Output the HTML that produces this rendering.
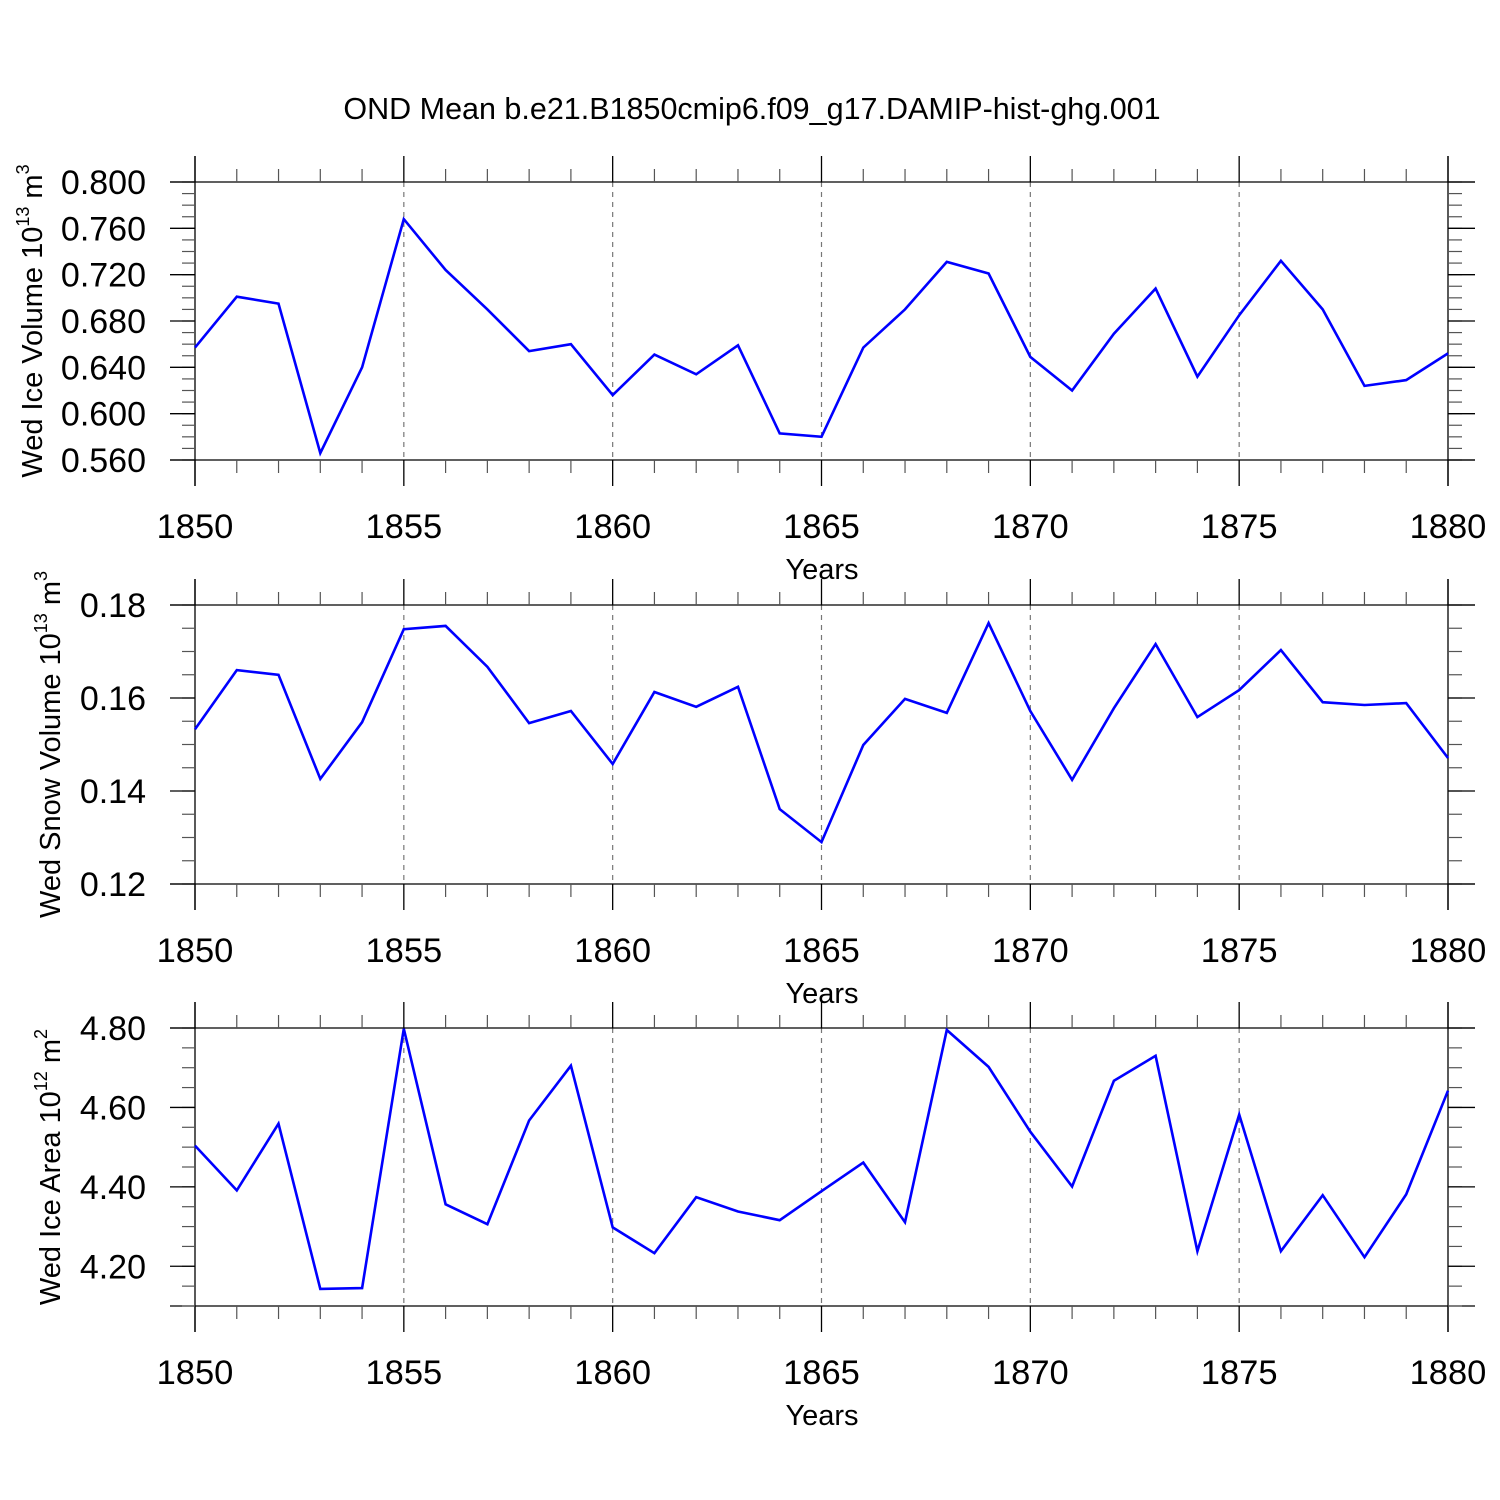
<!DOCTYPE html>
<html><head><meta charset="utf-8">
<style>
html,body{margin:0;padding:0;background:#fff;}
svg{display:block;font-family:"Liberation Sans",sans-serif;}
</style></head>
<body>
<svg id="chart" width="1500" height="1500" viewBox="0 0 1500 1500" xmlns="http://www.w3.org/2000/svg">
<rect width="1500" height="1500" fill="#fff"/>
<text x="752" y="119" font-size="30.5" text-anchor="middle">OND Mean b.e21.B1850cmip6.f09_g17.DAMIP-hist-ghg.001</text>
</svg>
<script>
const years = [1850,1851,1852,1853,1854,1855,1856,1857,1858,1859,1860,1861,1862,1863,1864,1865,1866,1867,1868,1869,1870,1871,1872,1873,1874,1875,1876,1877,1878,1879,1880];
const iceVolume = [0.657,0.701,0.695,0.566,0.640,0.768,0.724,0.690,0.654,0.660,0.616,0.651,0.634,0.659,0.583,0.580,0.657,0.690,0.731,0.721,0.649,0.620,0.669,0.708,0.632,0.685,0.732,0.690,0.624,0.629,0.652];
const snowVolume = [0.1533,0.166,0.165,0.1426,0.1548,0.1748,0.1755,0.1667,0.1546,0.1572,0.1458,0.1613,0.1581,0.1624,0.1361,0.129,0.1499,0.1598,0.1568,0.1761,0.1572,0.1424,0.1578,0.1716,0.1559,0.1617,0.1703,0.1591,0.1585,0.1589,0.1471];
const iceArea = [4.504,4.391,4.559,4.143,4.145,4.798,4.356,4.306,4.567,4.705,4.298,4.233,4.374,4.338,4.316,4.389,4.461,4.311,4.795,4.702,4.539,4.401,4.667,4.730,4.238,4.582,4.238,4.379,4.223,4.381,4.642];
const xTicks = [1850,1855,1860,1865,1870,1875,1880];
const iceVolTicks = ["0.560","0.600","0.640","0.680","0.720","0.760","0.800"];
const snowTicks = ["0.12","0.14","0.16","0.18"];
const areaTicks = ["4.20","4.40","4.60","4.80"];

const svg = document.getElementById('chart');
const NS = 'http://www.w3.org/2000/svg';
function mk(tag, attrs, parent){
  const e = document.createElementNS(NS, tag);
  for (const k in attrs) e.setAttribute(k, attrs[k]);
  (parent||svg).appendChild(e);
  return e;
}
const X0 = 195, X1 = 1448;
function xs(yr){ return X0 + (yr-1850)/30*(X1-X0); }

const panels = [
  {name:'ice-volume', data:iceVolume, ticks:iceVolTicks, ymin:0.56, ymax:0.80, minor:0.01, top:182, bot:460, title:'Wed Ice Volume 10', sup:'13', unit:' m', usup:'3', tx:32},
  {name:'snow-volume', data:snowVolume, ticks:snowTicks, ymin:0.12, ymax:0.18, minor:0.005, top:605, bot:884, title:'Wed Snow Volume 10', sup:'13', unit:' m', usup:'3', tx:50},
  {name:'ice-area', data:iceArea, ticks:areaTicks, ymin:4.10, ymax:4.80, minor:0.05, top:1028, bot:1306, title:'Wed Ice Area 10', sup:'12', unit:' m', usup:'2', tx:50}
];

panels.forEach(p => {
  const g = mk('g', {});
  
  
  const ys = v => p.bot - (v - p.ymin)/(p.ymax - p.ymin)*(p.bot - p.top);
  xTicks.slice(1,-1).forEach(t => {
    const l = mk('line', {x1:xs(t), x2:xs(t), y1:p.top, y2:p.bot, stroke:'#777', 'stroke-width':1.2, 'stroke-dasharray':'5,5'}, g);
    
    
  });
  mk('line', {x1:170, x2:1475, y1:p.top, y2:p.top, stroke:'#000', 'stroke-width':1.3}, g);
  mk('line', {x1:170, x2:1475, y1:p.bot, y2:p.bot, stroke:'#000', 'stroke-width':1.3}, g);
  mk('line', {x1:X0, x2:X0, y1:p.top-26, y2:p.bot+26, stroke:'#000', 'stroke-width':1.3}, g);
  mk('line', {x1:X1, x2:X1, y1:p.top-26, y2:p.bot+26, stroke:'#000', 'stroke-width':1.3}, g);
  for (let yr = 1850; yr <= 1880; yr++) {
    const x = xs(yr);
    if (yr % 5 === 0) {
      mk('line', {x1:x, x2:x, y1:p.top-26, y2:p.top, stroke:'#000', 'stroke-width':1.3}, g);
      mk('line', {x1:x, x2:x, y1:p.bot, y2:p.bot+26, stroke:'#000', 'stroke-width':1.3}, g);
    } else {
      mk('line', {x1:x, x2:x, y1:p.top-13, y2:p.top, stroke:'#555', 'stroke-width':1.2}, g);
      mk('line', {x1:x, x2:x, y1:p.bot, y2:p.bot+13, stroke:'#555', 'stroke-width':1.2}, g);
    }
  }
  xTicks.forEach(t => {
    const tx = mk('text', {x:xs(t), y:p.bot+78, 'font-size':34.5, 'text-anchor':'middle'}, g);
    tx.textContent = t;
    
    
  });
  const xt = mk('text', {x:822, y:p.bot+119, 'font-size':29, 'text-anchor':'middle'}, g);
  xt.textContent = 'Years';
  
  
  const nMinor = Math.round((p.ymax - p.ymin)/p.minor);
  for (let i = 0; i <= nMinor; i++) {
    const y = ys(p.ymin + i*p.minor);
    mk('line', {x1:182, x2:X0, y1:y, y2:y, stroke:'#555', 'stroke-width':1.2}, g);
    mk('line', {x1:X1, x2:1462, y1:y, y2:y, stroke:'#555', 'stroke-width':1.2}, g);
  }
  p.ticks.forEach(s => {
    const y = ys(parseFloat(s));
    mk('line', {x1:170, x2:X0, y1:y, y2:y, stroke:'#000', 'stroke-width':1.3}, g);
    mk('line', {x1:X1, x2:1475, y1:y, y2:y, stroke:'#000', 'stroke-width':1.3}, g);
    const t = mk('text', {x:146, y:y+12, 'font-size':34, 'text-anchor':'end'}, g);
    t.textContent = s;
    
    
  });
  const cy = (p.top + p.bot)/2;
  const yt = mk('text', {x:0, y:0, 'font-size':29, 'text-anchor':'middle', transform:`translate(${p.tx+10},${cy}) rotate(-90)`}, g);
  
  
  yt.appendChild(document.createTextNode(p.title));
  const s1 = mk('tspan', {'font-size':18, dy:-13}, yt); s1.textContent = p.sup;
  const s2 = mk('tspan', {dy:13}, yt); s2.textContent = p.unit;
  const s3 = mk('tspan', {'font-size':18, dy:-13}, yt); s3.textContent = p.usup;
  const pts = p.data.map((v,i) => xs(years[i]).toFixed(1) + ',' + ys(v).toFixed(1)).join(' ');
  const line = mk('polyline', {points:pts, fill:'none', stroke:'#0000ff', 'stroke-width':2.6, 'stroke-linejoin':'miter'}, g);
  
  
});
</script>
</body></html>
